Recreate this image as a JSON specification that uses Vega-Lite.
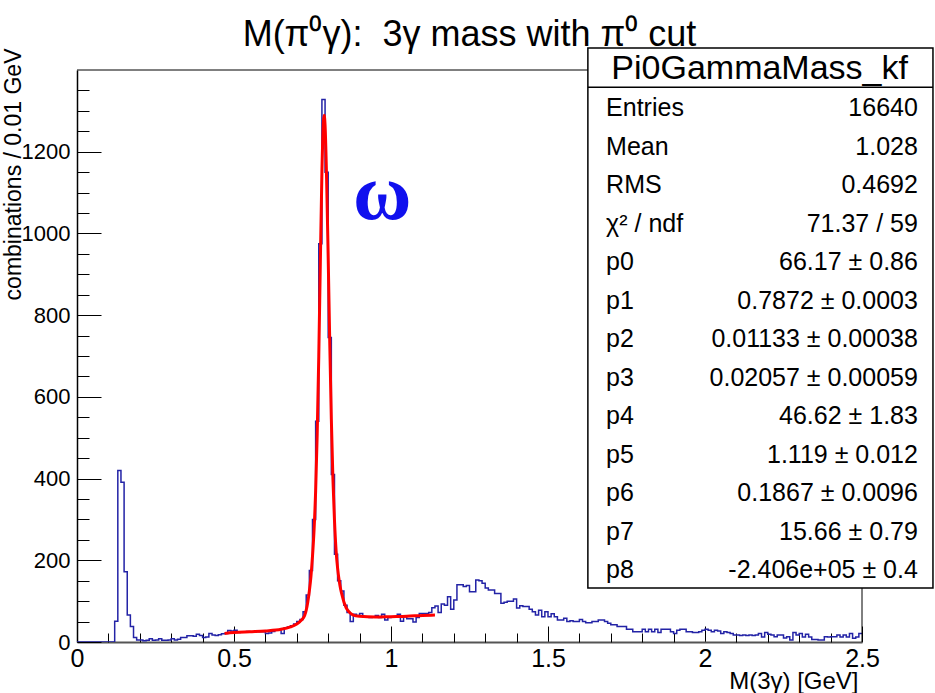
{
  "$schema": "https://vega.github.io/schema/vega-lite/v6.json",
  "autosize": {"type": "none"},
  "padding": {"left": 77, "top": 70, "right": 73, "bottom": 51},
  "width": 785,
  "height": 572,
  "background": "white",
  "config": {"view": {"stroke": null}, "font": "Liberation Sans", "axis": {"labelOverlap": false}},
  "title": {"text": "M(π⁰γ):\u00a0 3γ mass with π⁰ cut", "fontSize": 36, "fontWeight": "normal", "font": "Liberation Sans", "color": "black", "anchor": "middle", "frame": "group", "offset": -7},
  "datasets": {
    "hist": [
      {"m":0.00,"n":0},{"m":0.01,"n":0},{"m":0.02,"n":0},{"m":0.03,"n":0},{"m":0.04,"n":0},{"m":0.05,"n":0},{"m":0.06,"n":0},{"m":0.07,"n":0},{"m":0.08,"n":0},{"m":0.09,"n":0},
      {"m":0.10,"n":0},{"m":0.11,"n":0},{"m":0.12,"n":51},{"m":0.13,"n":420},{"m":0.14,"n":391},{"m":0.15,"n":172},{"m":0.16,"n":66},{"m":0.17,"n":38},{"m":0.18,"n":11},{"m":0.19,"n":5},
      {"m":0.20,"n":5},{"m":0.21,"n":3},{"m":0.22,"n":4},{"m":0.23,"n":8},{"m":0.24,"n":4},{"m":0.25,"n":5},{"m":0.26,"n":8},{"m":0.27,"n":4},{"m":0.28,"n":4},{"m":0.29,"n":5},
      {"m":0.30,"n":8},{"m":0.31,"n":5},{"m":0.32,"n":7},{"m":0.33,"n":11},{"m":0.34,"n":11},{"m":0.35,"n":15},{"m":0.36,"n":15},{"m":0.37,"n":14},{"m":0.38,"n":19},{"m":0.39,"n":16},
      {"m":0.40,"n":11},{"m":0.41,"n":12},{"m":0.42,"n":21},{"m":0.43,"n":17},{"m":0.44,"n":16},{"m":0.45,"n":18},{"m":0.46,"n":20},{"m":0.47,"n":21},{"m":0.48,"n":28},{"m":0.49,"n":27},
      {"m":0.50,"n":29},{"m":0.51,"n":23},{"m":0.52,"n":25},{"m":0.53,"n":25},{"m":0.54,"n":26},{"m":0.55,"n":25},{"m":0.56,"n":24},{"m":0.57,"n":26},{"m":0.58,"n":25},{"m":0.59,"n":25},
      {"m":0.60,"n":21},{"m":0.61,"n":22},{"m":0.62,"n":26},{"m":0.63,"n":30},{"m":0.64,"n":29},{"m":0.65,"n":21},{"m":0.66,"n":35},{"m":0.67,"n":37},{"m":0.68,"n":40},{"m":0.69,"n":44},
      {"m":0.70,"n":50},{"m":0.71,"n":55},{"m":0.72,"n":74},{"m":0.73,"n":115},{"m":0.74,"n":175},{"m":0.75,"n":300},{"m":0.76,"n":540},{"m":0.77,"n":975},{"m":0.78,"n":1328},{"m":0.79,"n":1150},
      {"m":0.80,"n":745},{"m":0.81,"n":410},{"m":0.82,"n":215},{"m":0.83,"n":150},{"m":0.84,"n":125},{"m":0.85,"n":90},{"m":0.86,"n":72},{"m":0.87,"n":50},{"m":0.88,"n":68},{"m":0.89,"n":65},
      {"m":0.90,"n":70},{"m":0.91,"n":62},{"m":0.92,"n":62},{"m":0.93,"n":60},{"m":0.94,"n":62},{"m":0.95,"n":65},{"m":0.96,"n":60},{"m":0.97,"n":68},{"m":0.98,"n":54},{"m":0.99,"n":60},
      {"m":1.00,"n":62},{"m":1.01,"n":62},{"m":1.02,"n":68},{"m":1.03,"n":51},{"m":1.04,"n":62},{"m":1.05,"n":57},{"m":1.06,"n":57},{"m":1.07,"n":49},{"m":1.08,"n":60},{"m":1.09,"n":70},
      {"m":1.10,"n":70},{"m":1.11,"n":70},{"m":1.12,"n":72},{"m":1.13,"n":84},{"m":1.14,"n":88},{"m":1.15,"n":72},{"m":1.16,"n":93},{"m":1.17,"n":90},{"m":1.18,"n":111},{"m":1.19,"n":80},
      {"m":1.20,"n":103},{"m":1.21,"n":140},{"m":1.22,"n":140},{"m":1.23,"n":136},{"m":1.24,"n":138},{"m":1.25,"n":123},{"m":1.26,"n":123},{"m":1.27,"n":152},{"m":1.28,"n":150},{"m":1.29,"n":144},
      {"m":1.30,"n":132},{"m":1.31,"n":127},{"m":1.32,"n":127},{"m":1.33,"n":119},{"m":1.34,"n":119},{"m":1.35,"n":95},{"m":1.36,"n":97},{"m":1.37,"n":100},{"m":1.38,"n":100},{"m":1.39,"n":105},
      {"m":1.40,"n":83},{"m":1.41,"n":89},{"m":1.42,"n":87},{"m":1.43,"n":87},{"m":1.44,"n":80},{"m":1.45,"n":74},{"m":1.46,"n":66},{"m":1.47,"n":78},{"m":1.48,"n":62},{"m":1.49,"n":74},
      {"m":1.50,"n":62},{"m":1.51,"n":69},{"m":1.52,"n":62},{"m":1.53,"n":54},{"m":1.54,"n":54},{"m":1.55,"n":58},{"m":1.56,"n":50},{"m":1.57,"n":52},{"m":1.58,"n":50},{"m":1.59,"n":50},
      {"m":1.60,"n":55},{"m":1.61,"n":50},{"m":1.62,"n":47},{"m":1.63,"n":47},{"m":1.64,"n":50},{"m":1.65,"n":50},{"m":1.66,"n":54},{"m":1.67,"n":54},{"m":1.68,"n":50},{"m":1.69,"n":46},
      {"m":1.70,"n":42},{"m":1.71,"n":42},{"m":1.72,"n":38},{"m":1.73,"n":38},{"m":1.74,"n":38},{"m":1.75,"n":31},{"m":1.76,"n":31},{"m":1.77,"n":25},{"m":1.78,"n":25},{"m":1.79,"n":25},
      {"m":1.80,"n":31},{"m":1.81,"n":25},{"m":1.82,"n":31},{"m":1.83,"n":25},{"m":1.84,"n":31},{"m":1.85,"n":23},{"m":1.86,"n":31},{"m":1.87,"n":31},{"m":1.88,"n":31},{"m":1.89,"n":25},
      {"m":1.90,"n":21},{"m":1.91,"n":29},{"m":1.92,"n":31},{"m":1.93,"n":31},{"m":1.94,"n":25},{"m":1.95,"n":25},{"m":1.96,"n":23},{"m":1.97,"n":23},{"m":1.98,"n":25},{"m":1.99,"n":29},
      {"m":2.00,"n":31},{"m":2.01,"n":29},{"m":2.02,"n":25},{"m":2.03,"n":29},{"m":2.04,"n":27},{"m":2.05,"n":21},{"m":2.06,"n":25},{"m":2.07,"n":23},{"m":2.08,"n":21},{"m":2.09,"n":17},
      {"m":2.10,"n":17},{"m":2.11,"n":16},{"m":2.12,"n":17},{"m":2.13,"n":16},{"m":2.14,"n":17},{"m":2.15,"n":16},{"m":2.16,"n":17},{"m":2.17,"n":21},{"m":2.18,"n":12},{"m":2.19,"n":23},
      {"m":2.20,"n":19},{"m":2.21,"n":17},{"m":2.22,"n":13},{"m":2.23,"n":17},{"m":2.24,"n":17},{"m":2.25,"n":10},{"m":2.26,"n":13},{"m":2.27,"n":5},{"m":2.28,"n":23},{"m":2.29,"n":17},
      {"m":2.30,"n":21},{"m":2.31,"n":12},{"m":2.32,"n":19},{"m":2.33,"n":12},{"m":2.34,"n":6},{"m":2.35,"n":6},{"m":2.36,"n":5},{"m":2.37,"n":5},{"m":2.38,"n":13},{"m":2.39,"n":12},
      {"m":2.40,"n":13},{"m":2.41,"n":13},{"m":2.42,"n":17},{"m":2.43,"n":12},{"m":2.44,"n":17},{"m":2.45,"n":12},{"m":2.46,"n":21},{"m":2.47,"n":9},{"m":2.48,"n":12},{"m":2.49,"n":21},
      {"m":2.50,"n":21}
    ],
    "fit": [
      {"m":0.47,"f":21},{"m":0.50,"f":23},{"m":0.55,"f":25},{"m":0.60,"f":27},{"m":0.65,"f":31},{"m":0.68,"f":37},{"m":0.70,"f":44},{"m":0.71,"f":50},{"m":0.72,"f":58},{"m":0.725,"f":65},
      {"m":0.73,"f":78},{"m":0.735,"f":98},{"m":0.74,"f":125},{"m":0.745,"f":160},{"m":0.75,"f":210},{"m":0.755,"f":275},{"m":0.76,"f":370},{"m":0.765,"f":510},{"m":0.77,"f":700},{"m":0.775,"f":930},
      {"m":0.78,"f":1150},{"m":0.785,"f":1275},{"m":0.7872,"f":1289},{"m":0.79,"f":1265},{"m":0.795,"f":1130},{"m":0.80,"f":940},{"m":0.805,"f":730},{"m":0.81,"f":545},{"m":0.815,"f":400},{"m":0.82,"f":298},
      {"m":0.825,"f":225},{"m":0.83,"f":180},{"m":0.835,"f":150},{"m":0.84,"f":128},{"m":0.845,"f":112},{"m":0.85,"f":98},{"m":0.855,"f":88},{"m":0.86,"f":80},{"m":0.87,"f":71},{"m":0.88,"f":66},
      {"m":0.90,"f":63},{"m":0.95,"f":61},{"m":1.00,"f":62},{"m":1.05,"f":63},{"m":1.10,"f":65},{"m":1.14,"f":66}
    ],
    "stats": [
      {"k":"Entries","v":"16640"},{"k":"Mean","v":"1.028"},{"k":"RMS","v":"0.4692"},{"k":"χ² / ndf","v":"71.37 / 59"},
      {"k":"p0","v":"66.17 ± 0.86"},{"k":"p1","v":"0.7872 ± 0.0003"},{"k":"p2","v":"0.01133 ± 0.00038"},{"k":"p3","v":"0.02057 ± 0.00059"},
      {"k":"p4","v":"46.62 ± 1.83"},{"k":"p5","v":"1.119 ± 0.012"},{"k":"p6","v":"0.1867 ± 0.0096"},{"k":"p7","v":"15.66 ± 0.79"},{"k":"p8","v":"-2.406e+05 ± 0.4"}
    ]
  },
  "resolve": {"scale": {"y": "independent"}},
  "layer": [
    {
      "resolve": {"axis": {"x": "independent", "y": "independent"}},
      "layer": [
        {
          "data": {"name": "hist"},
          "mark": {"type": "line", "interpolate": "step-after", "color": "#2323a6", "strokeWidth": 1.5, "clip": true},
          "encoding": {
            "x": {"field": "m", "type": "quantitative",
              "scale": {"domain": [0, 2.5], "nice": false, "zero": false},
              "axis": {
                "orient": "bottom",
                "values": [0, 0.5, 1, 1.5, 2, 2.5],
                "format": "~g",
                "grid": false, "domainColor": "#555555", "domainWidth": 2, "tickColor": "#000000", "tickWidth": 1, "tickSize": -16,
                "labelFont": "Liberation Sans", "labelFontSize": 25, "labelColor": "#000000", "labelPadding": 20,
                "labelFlush": false, "labelOverlap": false, "labelBound": false,
                "title": "M(3γ) [GeV]", "titleFont": "Liberation Sans", "titleFontSize": 24, "titleFontWeight": "normal", "titleColor": "#000000",
                "titleAlign": "right", "titleAnchor": "end", "titleBaseline": "alphabetic", "titleX": 781, "titleY": 46
              }
            },
            "y": {"field": "n", "type": "quantitative",
              "scale": {"domain": [0, 1400], "nice": false},
              "axis": {
                "orient": "left",
                "values": [0, 200, 400, 600, 800, 1000, 1200],
                "format": "d",
                "grid": false, "domainColor": "#000000", "domainWidth": 1.5, "tickColor": "#000000", "tickWidth": 1, "tickSize": -24,
                "labelFont": "Liberation Sans", "labelFontSize": 22, "labelColor": "#000000", "labelPadding": 31,
                "labelFlush": false, "labelOverlap": false, "labelBound": false,
                "title": "combinations / 0.01 GeV", "titleFont": "Liberation Sans", "titleFontSize": 23, "titleFontWeight": "normal", "titleColor": "#000000",
                "titleAngle": -90, "titleAlign": "right", "titleBaseline": "middle", "titleX": -64, "titleY": -22
              }
            }
          }
        },
        {
          "data": {"name": "fit"},
          "mark": {"type": "line", "interpolate": "monotone", "color": "#ff0000", "strokeWidth": 3},
          "encoding": {
            "x": {"field": "m", "type": "quantitative",
              "axis": {
                "orient": "bottom",
                "values": [0.1,0.2,0.3,0.4,0.6,0.7,0.8,0.9,1.1,1.2,1.3,1.4,1.6,1.7,1.8,1.9,2.1,2.2,2.3,2.4],
                "labels": false, "domain": false, "grid": false, "title": null,
                "tickColor": "#000000", "tickWidth": 1, "tickSize": -9
              }
            },
            "y": {"field": "f", "type": "quantitative",
              "axis": {
                "orient": "left",
                "values": [50,100,150,250,300,350,450,500,550,650,700,750,850,900,950,1050,1100,1150,1250,1300,1350],
                "labels": false, "domain": false, "grid": false, "title": null,
                "tickColor": "#000000", "tickWidth": 1, "tickSize": -12
              }
            }
          }
        },
        {
          "data": {"values": [{}]},
          "mark": {"type": "rule", "color": "#000000", "strokeWidth": 1},
          "encoding": {"x": {"datum": 0, "axis": null}, "x2": {"datum": 2.5}, "y": {"datum": 1400, "axis": null}}
        },
        {
          "data": {"values": [{}]},
          "mark": {"type": "rule", "color": "#000000", "strokeWidth": 1},
          "encoding": {"x": {"datum": 2.5, "axis": null}, "y": {"datum": 0, "axis": null}, "y2": {"datum": 1400}}
        },
        {
          "data": {"values": [{}]},
          "mark": {"type": "rect", "fill": "#ffffff", "stroke": "#000000", "strokeWidth": 1.5},
          "encoding": {"x": {"datum": 1.627, "axis": null}, "x2": {"datum": 2.726}, "y": {"datum": 1454, "axis": null}, "y2": {"datum": 132}}
        },
        {
          "data": {"values": [{}]},
          "mark": {"type": "rule", "color": "#000000", "strokeWidth": 1.5},
          "encoding": {"x": {"datum": 1.627, "axis": null}, "x2": {"datum": 2.726}, "y": {"datum": 1358, "axis": null}}
        },
        {
          "data": {"values": [{"t": "Pi0GammaMass_kf"}]},
          "mark": {"type": "text", "font": "Liberation Sans", "fontSize": 34, "color": "#000000", "align": "center", "baseline": "middle"},
          "encoding": {"x": {"datum": 2.174, "axis": null}, "y": {"datum": 1403, "axis": null}, "text": {"field": "t"}}
        },
        {
          "data": {"values": [{"t": "ω"}]},
          "mark": {"type": "text", "font": "Liberation Serif", "fontWeight": "bold", "fontSize": 80, "color": "#1010ee", "align": "center", "baseline": "middle"},
          "encoding": {"x": {"datum": 0.972, "axis": null}, "y": {"datum": 1095, "axis": null}, "text": {"field": "t"}}
        }
      ]
    },
    {
      "data": {"name": "stats"},
      "encoding": {
        "y": {"field": "k", "type": "nominal", "sort": null, "scale": {"type": "point", "range": [38, 500], "padding": 0}, "axis": null}
      },
      "layer": [
        {
          "mark": {"type": "text", "font": "Liberation Sans", "fontSize": 25, "color": "#000000", "align": "left", "baseline": "middle"},
          "encoding": {"x": {"datum": 1.685, "axis": null}, "text": {"field": "k"}}
        },
        {
          "mark": {"type": "text", "font": "Liberation Sans", "fontSize": 25, "color": "#000000", "align": "right", "baseline": "middle"},
          "encoding": {"x": {"datum": 2.678, "axis": null}, "text": {"field": "v"}}
        }
      ]
    }
  ]
}
